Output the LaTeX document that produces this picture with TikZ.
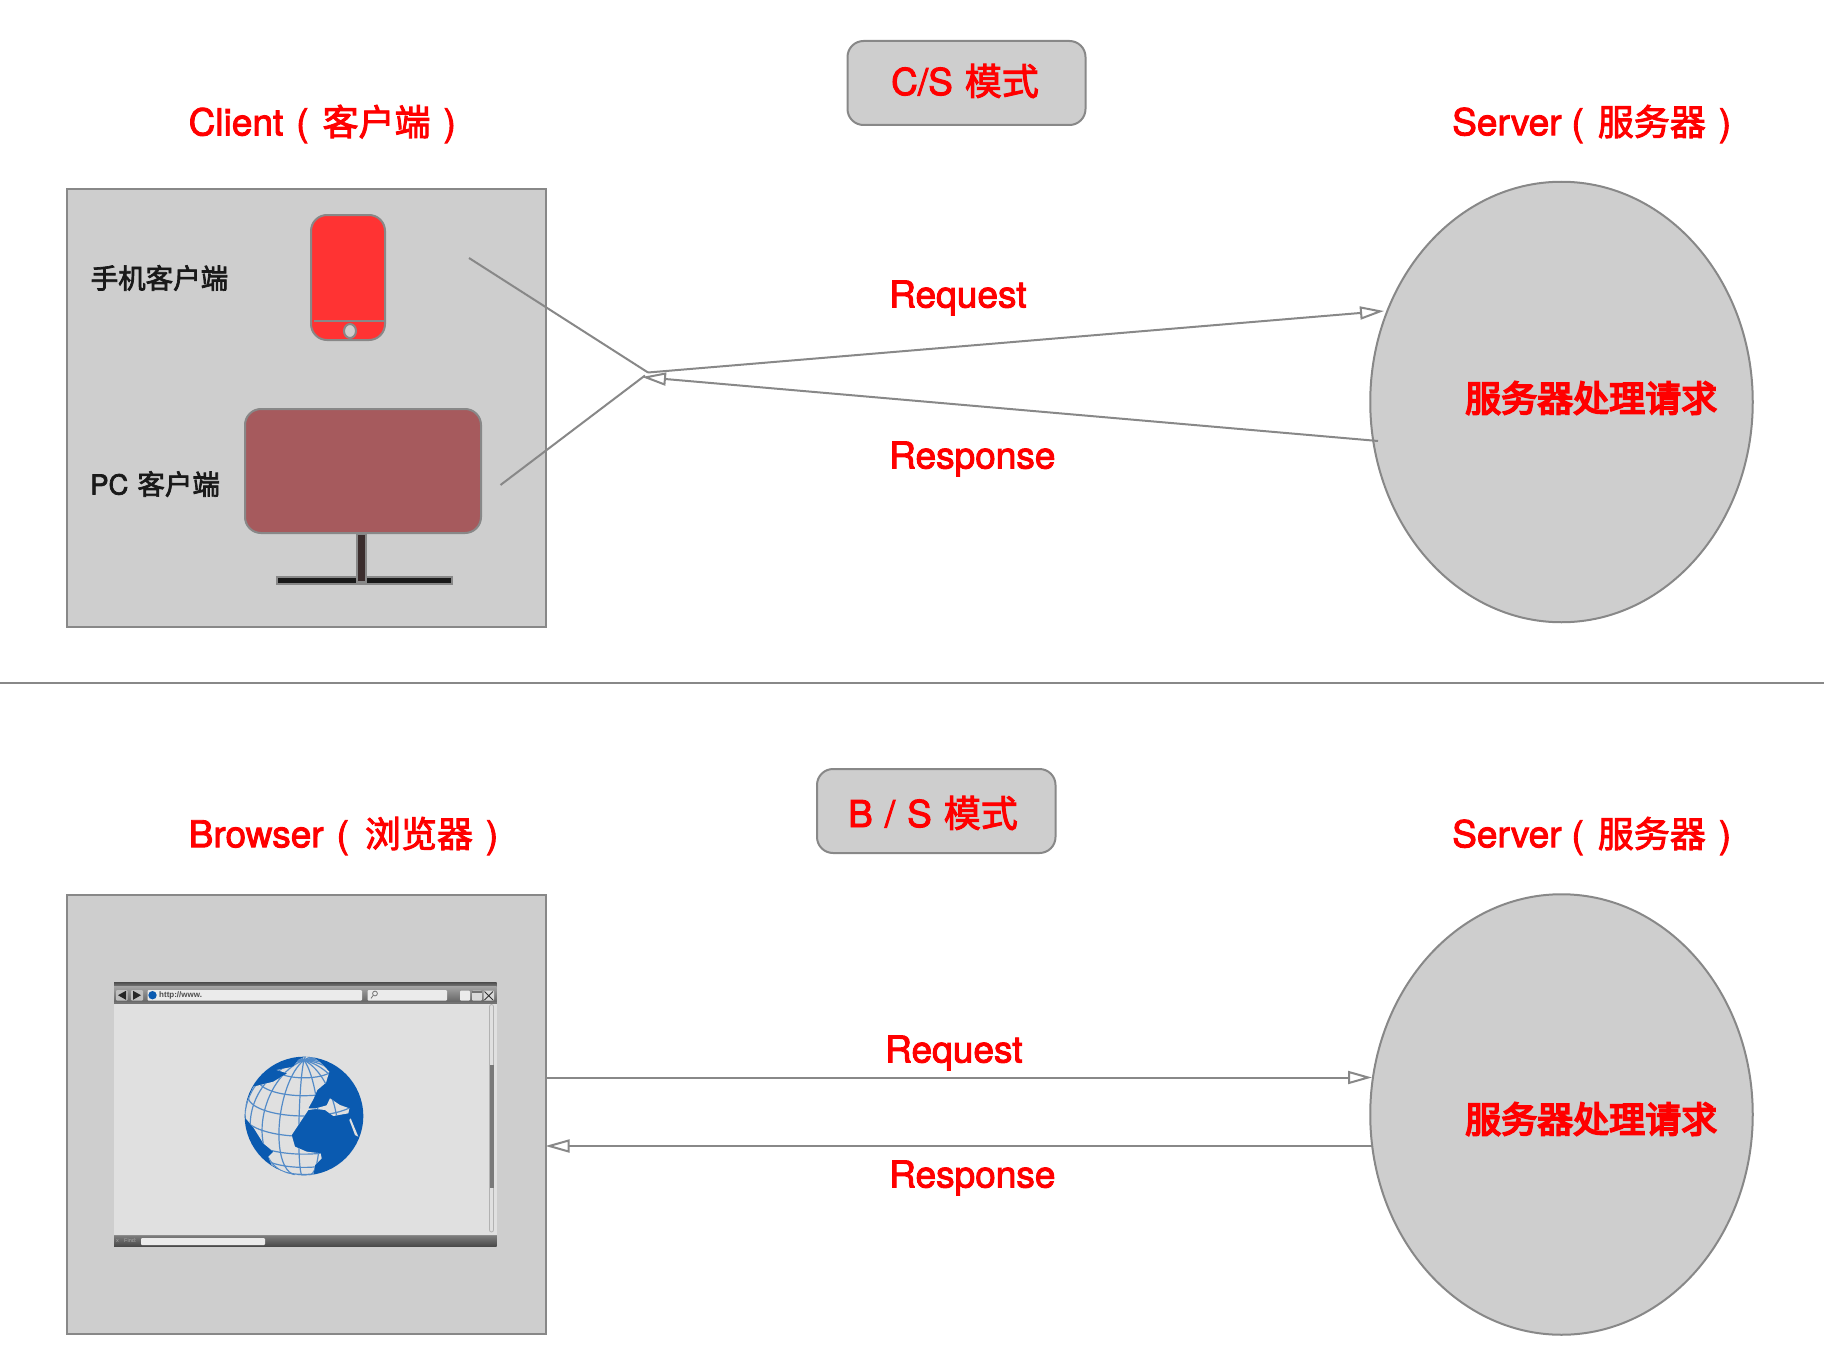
\documentclass[tikz,border=0pt]{standalone}
\usepackage{fontspec}
\usetikzlibrary{arrows.meta,shapes.geometric}
\setmainfont{Liberation Sans}
\newfontfamily\lat[FakeBold=2.5]{TeX Gyre Heros}
\newfontfamily\cjkm[FakeBold=2.5]{Noto Sans CJK SC}
\newfontfamily\cjkh[FakeBold=5]{Noto Sans CJK SC}
\newcommand{\lbl}[3]{{\lat #1\hspace{13pt}(\hspace{#3}}{\fontsize{36}{40}\selectfont\cjkm #2}{\lat\hspace{13pt})}}
\definecolor{edgegrey}{HTML}{888888}
\definecolor{panelgrey}{HTML}{CECECE}
\definecolor{phonered}{HTML}{FF3333}
\definecolor{pcbrown}{HTML}{A65A5D}
\definecolor{globeblue}{HTML}{0A5AB0}
\definecolor{pagegrey}{HTML}{E0E0E0}
\definecolor{standdark}{HTML}{3B2D2D}
\tikzset{
  panel/.style={draw=edgegrey,fill=panelgrey,line width=2pt,inner sep=0pt,outer sep=0pt,rectangle},
  pill/.style={panel,rounded corners=16pt},
  serverdisk/.style={draw=edgegrey,fill=panelgrey,line width=2pt,ellipse,inner sep=0pt,outer sep=0pt,minimum width=382.5pt,minimum height=440.5pt},
  redlabel/.style={text=red,font=\fontsize{37}{40}\selectfont,inner sep=0pt,anchor=west},
  blacklabel/.style={text=black!90,font=\fontsize{27.5}{30}\selectfont,inner sep=0pt,anchor=west},
  wire/.style={draw=edgegrey,line width=2pt},
  flow/.style={wire,-{Triangle[open,length=24pt,width=13pt,line width=2pt]}},
  field/.style={fill=white!92!black,rounded corners=1pt},
  gridline/.style={draw=globeblue!70!white,line width=1.2pt},
}
\begin{document}
\begin{tikzpicture}[x=1pt,y=-1pt]
\useasboundingbox (0,0) rectangle (1824,1362);
\fill[white] (0,0) rectangle (1824,1362);
% separator
\coordinate (sepL) at (0,683);
\coordinate (sepR) at (1824,683);
\draw[draw=edgegrey,line width=1.6pt] (sepL) -- (sepR);
% ---------- top
\node[pill,minimum width=238pt,minimum height=84pt] (cs) at (966.5,83) {};
\node[text=red,font=\fontsize{37}{40}\selectfont,inner sep=0pt] (cst) at (965,81) {\lat C/S\hspace{12pt}\cjkm 模式};
\node[redlabel] (client) at (188.5,124) {\lbl{Client}{客户端}{14pt}};
\node[redlabel] (server1) at (1452,124) {\lbl{Server\hspace{-3pt}}{服务器}{14pt}};
\node[panel,minimum width=479pt,minimum height=438pt] (clientbox) at (306,408) {};
\node[serverdisk] (srv1) at (1561.5,402) {};
\node[redlabel,font=\fontsize{36}{40}\selectfont\cjkh] (srv1t) at (1465,398) {服务器处理请求};
\node[blacklabel] (mob) at (90.5,278) {\cjkm 手机客户端};
\node[blacklabel] (pc) at (90,484) {{\lat PC}\hspace{9pt}{\cjkm 客户端}};
% phone
\node[panel,fill=phonered,rounded corners=16pt,minimum width=74pt,minimum height=125pt] (phone) at (348,277.5) {};
\coordinate (phL) at (314,321);
\coordinate (phR) at (384,321);
\draw[wire] (phL) -- (phR);
\node[draw=edgegrey,fill=panelgrey,line width=2pt,ellipse,minimum width=12pt,minimum height=14pt,inner sep=0pt] (phbtn) at (350,331) {};
% pc
\node[panel,fill=black!90,minimum width=175pt,minimum height=7pt] (foot) at (364,580) {};
\node[panel,fill=standdark,minimum width=8.5pt,minimum height=48pt] (stand) at (361.5,558) {};
\node[panel,fill=pcbrown,rounded corners=16pt,minimum width=236pt,minimum height=124pt] (monitor) at (363,471) {};
% connectors
\coordinate (mobEnd) at (469,258);
\coordinate (pcEnd) at (500.5,485);
\coordinate (hubA) at (648,372.5);
\coordinate (hubB) at (645,375.5);
\coordinate (hubT) at (642,377);
\coordinate (srvIn) at (1384,311);
\coordinate (srvOut) at (1378,441);
\draw[wire] (mobEnd) -- (hubA);
\draw[wire] (pcEnd) -- (hubB);
\draw[flow] (hubA) -- (srvIn);
\draw[flow] (srvOut) -- (hubT);
\node[redlabel] (req1) at (889,298) {\lat Request};
\node[redlabel] (res1) at (889,459) {\lat Response};
% ---------- bottom
\node[pill,minimum width=238.5pt,minimum height=84pt] (bs) at (936.25,811) {};
\node[text=red,font=\fontsize{37}{40}\selectfont,inner sep=0pt] (bst) at (933,813) {\lat B\hspace{12pt}/\hspace{12pt}S\hspace{12pt}\cjkm 模式};
\node[redlabel] (browser) at (188.5,836) {\lbl{Browser}{浏览器}{16pt}};
\node[redlabel] (server2) at (1452,836) {\lbl{Server\hspace{-3pt}}{服务器}{14pt}};
\node[panel,minimum width=479pt,minimum height=438.5pt] (browserbox) at (306,1114.25) {};
\node[serverdisk] (srv2) at (1561.5,1114.5) {};
\node[redlabel,font=\fontsize{36}{40}\selectfont\cjkh] (srv2t) at (1465,1119) {服务器处理请求};
% browser window
\fill[pagegrey] (114,1000) rectangle (496.5,1236);
\shade[top color=black!70,bottom color=black!45] (114,982) rectangle (496.5,988);
\shade[top color=black!35,bottom color=black!62] (114,986) rectangle (496.5,1003);
\fill[black!55] (114,1001.5) rectangle (496.5,1003.5);
\shade[top color=black!50,bottom color=black!72] (114,1235) rectangle (496.5,1246.5);
\fill[black!45] (114,1235) rectangle (496.5,1236);
% toolbar
\fill[field,fill=black!25] (116,990) rectangle (127.5,1000.5);
\fill[field,fill=black!25] (131,990) rectangle (143,1000.5);
\fill[black!85] (118,995.2) -- (126,990.8) -- (126,999.8) -- cycle;
\fill[black!85] (141,995.2) -- (133,990.8) -- (133,999.8) -- cycle;
\fill[field] (147.5,990) rectangle (362,1000.5);
\fill[field] (367.5,990) rectangle (447,1000.5);
\fill[globeblue] (152.5,995.2) circle [radius=4.2pt];
\node[font=\fontsize{8}{9}\selectfont\bfseries,text=black!70,inner sep=0pt,anchor=west] (url) at (159,995.4) {http://www.};
\draw[black!55,line width=.8pt] (375,993.5) circle [radius=2.4pt];
\draw[black!55,line width=.8pt] (373.2,995.4) -- (371,998.4);
\fill[field] (460,990.5) rectangle (470,1000.5);
\fill[field,fill=black!15] (472,990.5) rectangle (482,1000.5);
\fill[black!55] (472,991) rectangle (482,992.6);
\fill[field,fill=black!15] (483.5,990.5) rectangle (494,1000.5);
\draw[black!80,line width=.9pt] (484.5,991.5) -- (493,1000) (493,991.5) -- (484.5,1000);
% scrollbar
\draw[black!30,fill=pagegrey,line width=.8pt,rounded corners=2pt] (489.5,1004.5) rectangle (493.5,1232);
\fill[black!52] (489.5,1065) rectangle (493.5,1188);
% find bar
\fill[field] (141,1238) rectangle (265,1245);
\node[font=\fontsize{5.5}{6}\selectfont,text=black!35,inner sep=0pt,anchor=west] (findx) at (116,1241) {x};
\node[font=\fontsize{5.5}{6}\selectfont,text=black!35,inner sep=0pt,anchor=west] (find) at (124,1241) {Find:};
% globe (1 unit = 1/3 px)
\begin{scope}[shift={(230,1040)},x=0.33333pt,y=-0.33333pt]
  \fill[globeblue] (222,228) circle [radius=59.3pt];
  \def\oceanpath{(225,50) -- (250,52) -- (272,68) -- (298,95) -- (288,128) -- (262,150) -- (250,178) -- (235,205) -- (258,205) -- (290,196) -- (300,175) -- (330,195) -- (358,205) -- (355,220) -- (310,228) -- (285,210) -- (258,207) -- (235,210) -- (215,240) -- (185,285) -- (195,320) -- (230,335) -- (272,340) -- (275,355) -- (255,375) -- (250,405) -- (180,405) -- (125,375) -- (115,350) -- (130,335) -- (100,310) -- (70,262) -- (47,235) -- (45,200) -- (70,140) -- (130,125) -- (172,100) -- (140,90) -- (190,80) -- (205,60) -- cycle}
  \fill[pagegrey] \oceanpath;
  \fill[pagegrey] (362,235) -- (385,290) -- (375,285) -- (358,240) -- cycle;
  \begin{scope}
    \clip \oceanpath;
    \foreach \lam in {-165,-145,...,175}{
      \pgfmathsetmacro{\phib}{atan(-cos(\lam)/0.364)}
      \draw[gridline] plot[smooth,samples=24,domain=\phib:90,variable=\p]
        ({222+178*cos(\p)*sin(\lam)},{228-178*(0.940*sin(\p)-0.342*cos(\p)*cos(\lam))});
    }
    \foreach \ph in {-60,-40,-20,0,20,40,60}{
      \pgfmathsetmacro{\lamb}{acos(-0.364*tan(\ph))}
      \draw[gridline] plot[smooth,samples=36,domain=-\lamb:\lamb,variable=\l]
        ({222+178*cos(\ph)*sin(\l)},{228-178*(0.940*sin(\ph)-0.342*cos(\ph)*cos(\l))});
    }
  \end{scope}
\end{scope}
% flows
\coordinate (reqA) at (browserbox.east |- 0,1077.5);
\coordinate (reqB) at (1372,1077.5);
\coordinate (resA) at (1372,1146);
\coordinate (resB) at (browserbox.east |- 0,1146);
\draw[flow] (reqA) -- (reqB);
\draw[flow] (resA) -- (resB);
\node[redlabel] (req2) at (885,1053) {\lat Request};
\node[redlabel] (res2) at (889,1178) {\lat Response};
\end{tikzpicture}
\end{document}
